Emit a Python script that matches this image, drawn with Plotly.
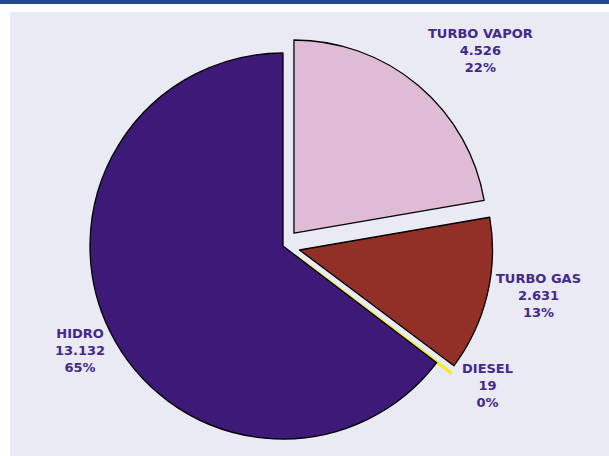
import plotly.graph_objects as go

# ---- data ----
categories = ["TURBO VAPOR", "TURBO GAS", "DIESEL", "HIDRO"]
values = [4526, 2631, 19, 13132]
colors = ["#dfbbd6", "#922f27", "#f2ee1e", "#3d1978"]
pulls = [0.088, 0.088, 0.088, 0.0]
# label block centres (pixels in the 609x456 picture)
label_pos = [(480, 50), (538, 295), (487, 385), (80, 350)]

W, H = 609, 456
total = sum(values)

def fmt_num(v):
    return f"{v:,}".replace(",", ".")

fig = go.Figure()
fig.add_trace(go.Pie(
    labels=categories,
    values=values,
    sort=False,
    direction="clockwise",
    rotation=0,
    pull=pulls,
    textinfo="none",
    hoverinfo="label+value+percent",
    marker=dict(colors=colors,
                line=dict(color=["#000000", "#000000", "#f2ee1e", "#000000"],
                          width=[1.3, 1.3, 2.2, 1.3])),
    domain=dict(x=[72 / W, 494 / W], y=[0.0, 0.921]),
    showlegend=False,
))

annotations = []
for cat, v, (px, py) in zip(categories, values, label_pos):
    pct = round(100 * v / total)
    annotations.append(dict(
        x=px / W, y=1 - py / H, xref="paper", yref="paper",
        xanchor="center", yanchor="middle", showarrow=False, align="center",
        text=f"<b>{cat}<br>{fmt_num(v)}<br>{pct}%</b>",
        font=dict(family="DejaVu Sans", size=13, color="#42288a"),
    ))

shapes = [
    dict(type="rect", xref="paper", yref="paper", x0=0, x1=10 / W, y0=0, y1=1,
         fillcolor="white", line=dict(width=0), layer="above"),
    dict(type="rect", xref="paper", yref="paper", x0=0, x1=1, y0=1 - 12 / H, y1=1,
         fillcolor="white", line=dict(width=0), layer="above"),
    dict(type="rect", xref="paper", yref="paper", x0=0, x1=1, y0=1 - 4 / H, y1=1,
         fillcolor="#214b8c", line=dict(width=0), layer="above"),
]

fig.update_layout(
    width=W, height=H,
    margin=dict(l=0, r=0, t=0, b=0),
    paper_bgcolor="#eaeaf4",
    plot_bgcolor="#eaeaf4",
    annotations=annotations,
    shapes=shapes,
)

fig.write_html("out.html",
               config={"displayModeBar": False},
               post_script="document.body.style.margin='0px';document.body.style.padding='0px';")
